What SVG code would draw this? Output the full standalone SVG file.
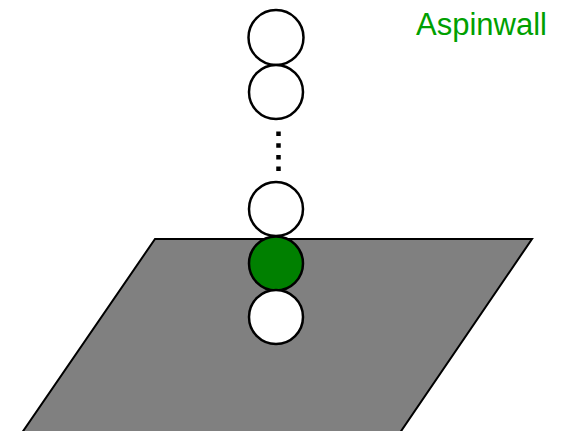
<svg xmlns="http://www.w3.org/2000/svg" width="563" height="431" viewBox="0 0 563 431">
<style>
.ball{fill:#ffffff;stroke:#000000;stroke-width:2.5}
.green{fill:#008000}
.label{font-family:"Liberation Sans",Arial,sans-serif;font-size:31px;fill:#00a000}
</style>
<rect width="563" height="431" fill="#ffffff"/>
<g id="plane">
<polygon points="155,239 532,239 395,440 17,440" fill="#808080" stroke="#000000" stroke-width="2"/>
</g>
<g id="connectors">
<line x1="278.5" y1="131.5" x2="278.5" y2="173" stroke="#000000" stroke-width="4.5" stroke-dasharray="4.5 7.2"/>
</g>
<g id="ball1"><circle class="ball" cx="276" cy="37.5" r="27.5"/></g>
<g id="ball2"><circle class="ball" cx="276" cy="92" r="27"/></g>
<g id="ball3"><circle class="ball" cx="276" cy="209" r="27"/></g>
<g id="ball4"><circle class="ball green" cx="276" cy="263.5" r="27"/></g>
<g id="ball5"><circle class="ball" cx="276" cy="317" r="27"/></g>
<g id="title"><text class="label" x="416" y="35">Aspinwall</text></g>
</svg>
